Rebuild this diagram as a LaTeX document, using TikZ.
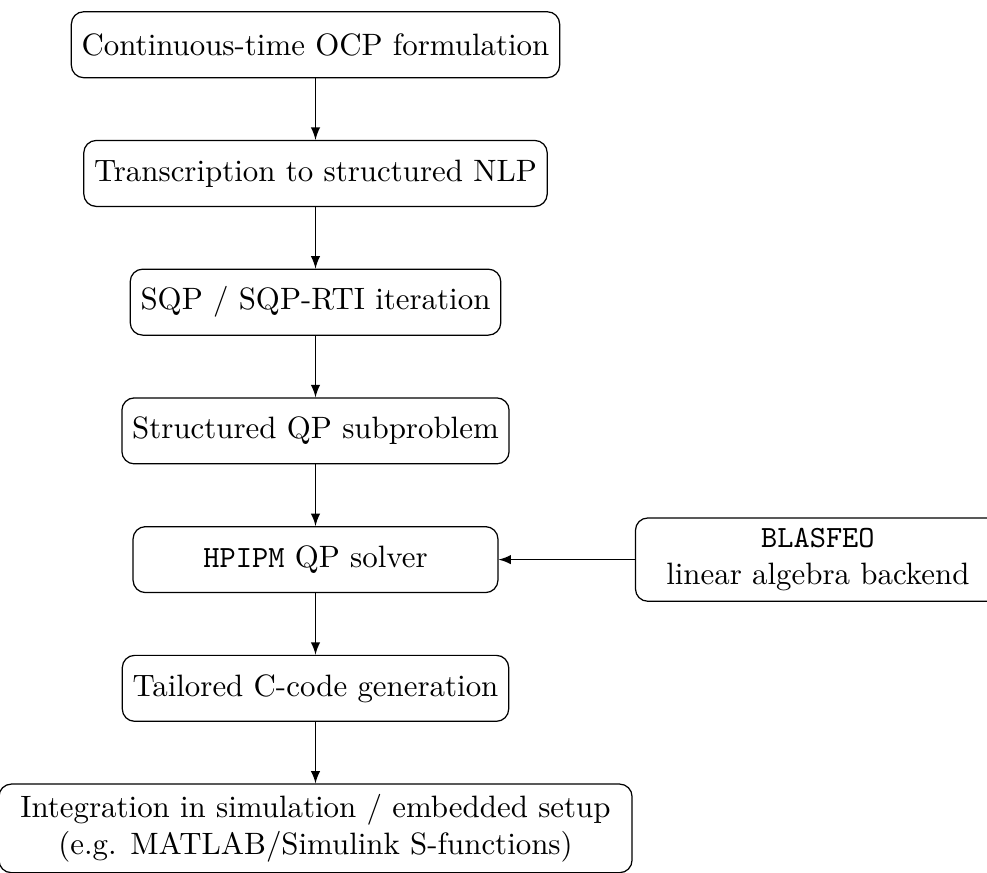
\documentclass[tikz,border=0pt]{standalone}
\usetikzlibrary{positioning}
\begin{document}
\begin{tikzpicture}[
  etapa/.style={draw, rounded corners, minimum height=0.75cm, align=center},
  seta/.style={-latex},
  node distance=7mm
]
% cadeia principal
\node[etapa] (ocp) {Continuous-time OCP formulation};
\node[etapa, below=of ocp] (nlp) {Transcription to structured NLP};
\node[etapa, below=of nlp] (sqp) {SQP / SQP-RTI iteration};
\node[etapa, below=of sqp] (qp) {Structured QP subproblem};
\node[etapa, below=of qp, minimum width=4.15cm] (hpipm) {\texttt{HPIPM} QP solver};
\node[etapa, below=of hpipm] (codegen) {Tailored C-code generation};
\node[etapa, below=of codegen, minimum width=7.2cm] (integ) {Integration in simulation / embedded setup\\
  (e.g. MATLAB/Simulink S-functions)};

% backend
\node[etapa, right=1.55cm of hpipm, minimum width=4.15cm] (blasfeo) {\texttt{BLASFEO}\\
  linear algebra backend};

% setas
\foreach \de/\para in {ocp/nlp, nlp/sqp, sqp/qp, qp/hpipm, hpipm/codegen, codegen/integ} {
  \draw[seta] (\de) -- (\para);
}
\draw[seta] (blasfeo) -- (hpipm);

% moldura
\pgfresetboundingbox
\useasboundingbox ([xshift=-102.1pt, yshift=0.4pt]integ.south) rectangle ++(319.4pt,282.2pt);
\end{tikzpicture}
\end{document}
